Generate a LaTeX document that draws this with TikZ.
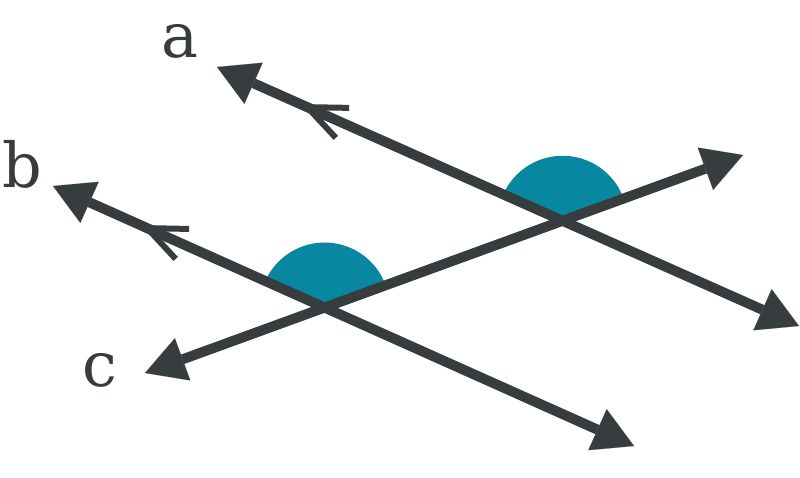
\documentclass[tikz,border=0pt]{standalone}
\usepackage{fontspec}
\setmainfont{DejaVu Serif}
\usetikzlibrary{arrows.meta,calc,intersections}
\definecolor{ink}{HTML}{373C3F}
\definecolor{teal}{HTML}{0888A0}
\tikzset{
  ray/.style={draw=ink, line width=10pt,
    {Triangle[length=40pt,width=45pt,line width=0.1pt]}-{Triangle[length=40pt,width=45pt,line width=0.1pt]}},
  chev/.style={draw=ink, line width=6pt},
  sector/.style={fill=teal, draw=none},
  lbl/.style={text=ink, font=\fontsize{62}{62}\selectfont, inner sep=0pt, anchor=base}
}
\begin{document}
\begin{tikzpicture}[x=1pt,y=-1pt]
\useasboundingbox (0,0) rectangle (800,477);
\coordinate (A1) at (217,67);
\coordinate (A2) at (799,326);
\coordinate (B1) at (53,186);
\coordinate (B2) at (634,446);
\coordinate (C1) at (145,373);
\coordinate (C2) at (743,155);
\coordinate (X1) at (intersection of A1--A2 and C1--C2);
\coordinate (X2) at (intersection of B1--B2 and C1--C2);
% angle sectors
\fill[sector] (X1) -- ++(-20:65) arc[start angle=-20, end angle=-156, radius=65] -- cycle;
\fill[sector] (X2) -- ++(-20:65) arc[start angle=-20, end angle=-156, radius=65] -- cycle;
% lines
\draw[ray] (A1) -- (A2);
\draw[ray] (B1) -- (B2);
\draw[ray] (C1) -- (C2);
% parallel marks
\coordinate (VA) at ($(A1)!0.155!(A2)$);
\coordinate (VB) at ($(B1)!0.162!(B2)$);
\draw[chev] ($(VA)!42pt!23:(A2)$) -- (VA) -- ($(VA)!42pt!-23:(A2)$);
\draw[chev] ($(VB)!42pt!23:(B2)$) -- (VB) -- ($(VB)!42pt!-23:(B2)$);
% labels
\node[lbl] (la) at (180,57) {a};
\node[lbl] (lb) at (22,187) {b};
\node[lbl] (lc) at (100,386) {c};
\end{tikzpicture}
\end{document}
